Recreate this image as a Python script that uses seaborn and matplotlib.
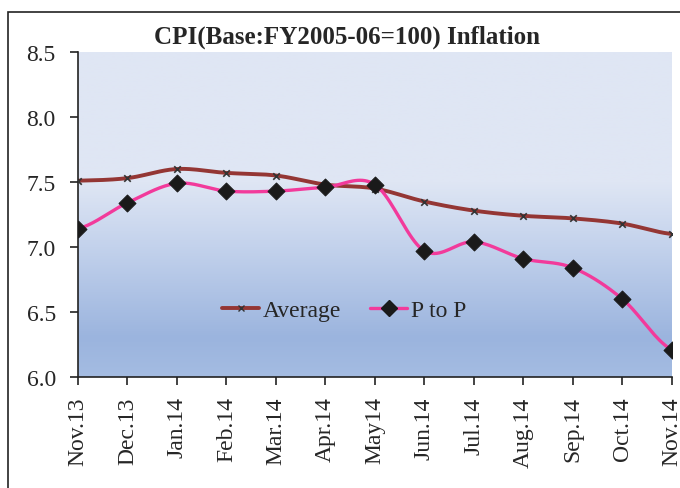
import numpy as np
import pandas as pd
import matplotlib
matplotlib.use("Agg")
import matplotlib.pyplot as plt
import seaborn as sns
from matplotlib.lines import Line2D
from matplotlib.patches import Rectangle
from matplotlib.colors import LinearSegmentedColormap

months = ["Nov.13", "Dec.13", "Jan.14", "Feb.14", "Mar.14", "Apr.14", "May14",
          "Jun.14", "Jul.14", "Aug.14", "Sep.14", "Oct.14", "Nov.14"]
average = [7.51, 7.53, 7.60, 7.57, 7.55, 7.48, 7.45, 7.35, 7.28, 7.24, 7.22, 7.18, 7.10]
p_to_p = [7.14, 7.34, 7.49, 7.43, 7.43, 7.46, 7.48, 6.97, 7.04, 6.91, 6.84, 6.60, 6.21]

sns.set_style("white")
plt.rcParams["font.family"] = ["Liberation Serif", "DejaVu Serif"]


def smooth(y, n=20):
    # Excel-style smoothed line (Catmull-Rom through the points)
    y = np.asarray(y, dtype=float)
    p = np.concatenate([[y[0]], y, [y[-1]]])
    xs, ys = [], []
    for i in range(len(y) - 1):
        p0, p1, p2, p3 = p[i], p[i + 1], p[i + 2], p[i + 3]
        t = np.linspace(0, 1, n, endpoint=False)
        seg = 0.5 * (2 * p1 + (-p0 + p2) * t + (2 * p0 - 5 * p1 + 4 * p2 - p3) * t ** 2
                     + (-p0 + 3 * p1 - 3 * p2 + p3) * t ** 3)
        xs.append(i + t)
        ys.append(seg)
    xs.append([len(y) - 1])
    ys.append([y[-1]])
    return np.concatenate(xs), np.concatenate(ys)


fig = plt.figure(figsize=(6.8, 4.89), dpi=100)
ax = fig.add_axes([0.1147, 0.227, 0.988 - 0.1147, 0.8916 - 0.227])

# outer frame
fig.patches.append(Rectangle((8 / 680, -0.05), 1.1, 1 - 13 / 489 + 0.05,
                             transform=fig.transFigure, fill=False,
                             edgecolor="#222222", linewidth=1.2))

# gradient background
cmap = LinearSegmentedColormap.from_list(
    "bg", [(0.0, "#a4bce2"), (0.12, "#9bb4de"), (0.4, "#c3d2ec"),
           (0.6, "#dfe6f4"), (1.0, "#dfe6f4")])
grad = np.linspace(0, 1, 256).reshape(-1, 1)
ax.imshow(grad, cmap=cmap, aspect="auto", origin="lower",
          extent=[0, len(months) - 1, 6.0, 8.5], zorder=0)

xa, ya = smooth(average)
xp, yp = smooth(p_to_p)
sns.lineplot(x=xa, y=ya, ax=ax, color="#943634", linewidth=2.8, sort=False, zorder=2)
sns.lineplot(x=xp, y=yp, ax=ax, color="#f23a9b", linewidth=2.4, sort=False, zorder=3)

df = pd.DataFrame({"x": np.arange(len(months)), "avg": average, "ptp": p_to_p})
sns.scatterplot(data=df, x="x", y="avg", ax=ax, marker="x", s=22, color="#333333",
                linewidth=1.2, zorder=4)
sns.scatterplot(data=df, x="x", y="ptp", ax=ax, marker="D", s=75, color="#1a1a1a",
                edgecolor="#1a1a1a", zorder=5)

ax.set_xlim(0, len(months) - 1)
ax.set_ylim(6.0, 8.5)
ax.set_yticks([6.0, 6.5, 7.0, 7.5, 8.0, 8.5])
ax.set_yticklabels([f"{v:.1f}" for v in [6.0, 6.5, 7.0, 7.5, 8.0, 8.5]], fontsize=17)
ax.set_xticks(range(len(months)))
ax.set_xticklabels(months, rotation=90, fontsize=17)
ax.tick_params(axis="both", direction="out", length=6, width=1.2, color="#222222",
               bottom=True, left=True)
ax.tick_params(axis="y", pad=10)
ax.tick_params(axis="x", pad=8)
ax.set_xlabel("")
ax.set_ylabel("")
for side in ["top", "right"]:
    ax.spines[side].set_visible(False)
for side in ["left", "bottom"]:
    ax.spines[side].set_color("#222222")
    ax.spines[side].set_linewidth(1.2)

handles = [
    Line2D([], [], color="#943634", linewidth=2.8, marker="x", markersize=5,
           markeredgecolor="#333333"),
    Line2D([], [], color="#f23a9b", linewidth=2.4, marker="D", markersize=8,
           markerfacecolor="#1a1a1a", markeredgecolor="#1a1a1a"),
]
ax.legend(handles, ["Average", "P to P"], loc="center", bbox_to_anchor=(0.448, 0.206),
          ncol=2, frameon=False, fontsize=17, handlelength=1.6, handletextpad=0.15,
          columnspacing=1.2)

fig.text(0.51, 0.924, "CPI(Base:FY2005-06=100) Inflation", ha="center", va="center",
         fontsize=18, fontweight="bold")

fig.savefig("out.png", dpi=100)
